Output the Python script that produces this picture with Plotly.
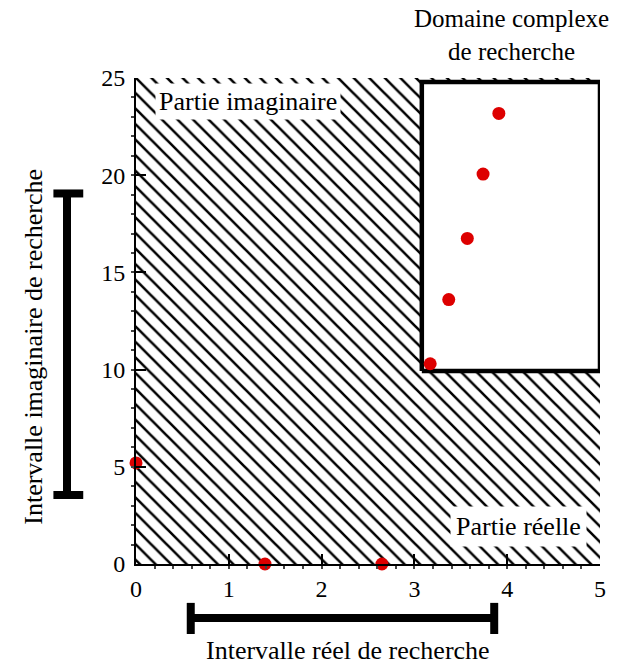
import plotly.graph_objects as go

# Roots found in the complex plane (real part, imaginary part)
roots_re = [0.0, 1.39, 2.65, 3.17, 3.37, 3.57, 3.74, 3.91]
roots_im = [5.2, 0.0, 0.0, 10.3, 13.6, 16.75, 20.06, 23.18]

# Search intervals along each axis
real_interval = [0.59, 3.86]
imag_interval = [3.55, 19.06]

# Complex search domain (rectangle)
domain_re = [3.08, 5.0]
domain_im = [9.93, 24.8]

x_ticks = [0, 1, 2, 3, 4, 5]
y_ticks = [0, 5, 10, 15, 20, 25]

X_RANGE = [0, 5]
Y_RANGE = [0, 25]

FONT = "Liberation Serif"
RED = "#dd0000"

fig = go.Figure()

# Hatched background covering the whole plane
fig.add_trace(go.Scatter(
    x=[X_RANGE[0], X_RANGE[1], X_RANGE[1], X_RANGE[0], X_RANGE[0]],
    y=[Y_RANGE[0], Y_RANGE[0], Y_RANGE[1], Y_RANGE[1], Y_RANGE[0]],
    mode="lines", line=dict(width=0), fill="toself",
    fillcolor="white",
    fillpattern=dict(shape="\\", size=11, solidity=0.23, fgopacity=1,
                     fgcolor="black", bgcolor="white"),
    hoverinfo="skip", showlegend=False,
))

# Complex search domain: white rectangle with thick border
fig.add_trace(go.Scatter(
    x=[domain_re[0], domain_re[1], domain_re[1], domain_re[0], domain_re[0]],
    y=[domain_im[0], domain_im[0], domain_im[1], domain_im[1], domain_im[0]],
    mode="lines", line=dict(color="black", width=4.5), fill="toself",
    fillcolor="white", cliponaxis=False,
    hoverinfo="skip", showlegend=False,
))

# Roots
fig.add_trace(go.Scatter(
    x=roots_re, y=roots_im, mode="markers",
    marker=dict(color=RED, size=13, line=dict(width=0)),
    cliponaxis=False, showlegend=False,
))

BAR_W = 8

shapes = []
# Real search interval, drawn below the x axis
hy, hcap0, hcap1 = -0.111, -0.080, -0.144
shapes.append(dict(type="line", xref="x", yref="paper",
                   x0=real_interval[0], x1=real_interval[1], y0=hy, y1=hy,
                   line=dict(color="black", width=BAR_W)))
for xv in real_interval:
    shapes.append(dict(type="line", xref="x", yref="paper",
                       x0=xv, x1=xv, y0=hcap0, y1=hcap1,
                       line=dict(color="black", width=BAR_W)))

# Imaginary search interval, drawn left of the y axis
vx, vcap0, vcap1 = -0.1487, -0.178, -0.1137
shapes.append(dict(type="line", xref="paper", yref="y",
                   x0=vx, x1=vx, y0=imag_interval[0], y1=imag_interval[1],
                   line=dict(color="black", width=BAR_W)))
for yv in imag_interval:
    shapes.append(dict(type="line", xref="paper", yref="y",
                       x0=vcap0, x1=vcap1, y0=yv, y1=yv,
                       line=dict(color="black", width=BAR_W)))

annotations = [
    dict(text="Partie imaginaire", x=1.21, y=23.8, xref="x", yref="y",
         xanchor="center", yanchor="middle",
         showarrow=False, bgcolor="white", borderpad=3,
         font=dict(family=FONT, size=26, color="black")),
    dict(text="Partie réelle", x=4.12, y=1.95, xref="x", yref="y",
         xanchor="center", yanchor="middle",
         showarrow=False, bgcolor="white", borderpad=5,
         font=dict(family=FONT, size=26, color="black")),
    dict(text="Domaine complexe<br>de recherche", x=4.05, y=1.089,
         xref="x", yref="paper", xanchor="center", yanchor="middle",
         showarrow=False,
         font=dict(family=FONT, size=25, color="black")),
    dict(text="Intervalle réel de recherche", x=2.28, y=-0.179,
         xref="x", yref="paper", xanchor="center", yanchor="middle",
         showarrow=False,
         font=dict(family=FONT, size=26, color="black")),
    dict(text="Intervalle imaginaire de recherche", x=-0.221, y=11.2,
         xref="paper", yref="y", xanchor="center", yanchor="middle",
         showarrow=False, textangle=-90,
         font=dict(family=FONT, size=26, color="black")),
]

fig.update_layout(
    width=618, height=664,
    margin=dict(l=136, r=15, t=78, b=100),
    paper_bgcolor="white", plot_bgcolor="white",
    shapes=shapes, annotations=annotations,
    font=dict(family=FONT, size=24, color="black"),
)

fig.update_xaxes(
    range=X_RANGE, tickvals=x_ticks, ticktext=[str(v) for v in x_ticks],
    showgrid=False, zeroline=False,
    showline=True, linecolor="black", linewidth=2,
    ticks="inside", ticklen=10, tickwidth=2, tickcolor="black",
    ticklabelstandoff=2,
    minor=dict(ticks="outside", dtick=0.2, ticklen=3, tickwidth=1.5,
               tickcolor="#444444", showgrid=False),
    tickfont=dict(family=FONT, size=24, color="black"),
)
fig.update_yaxes(
    range=Y_RANGE, tickvals=y_ticks, ticktext=[str(v) for v in y_ticks],
    showgrid=False, zeroline=False,
    showline=True, linecolor="black", linewidth=2,
    ticks="inside", ticklen=10, tickwidth=2, tickcolor="black",
    ticklabelstandoff=4,
    minor=dict(ticks="outside", dtick=1, ticklen=3, tickwidth=1.5,
               tickcolor="#444444", showgrid=False),
    tickfont=dict(family=FONT, size=24, color="black"),
)

fig.write_html("out.html")
